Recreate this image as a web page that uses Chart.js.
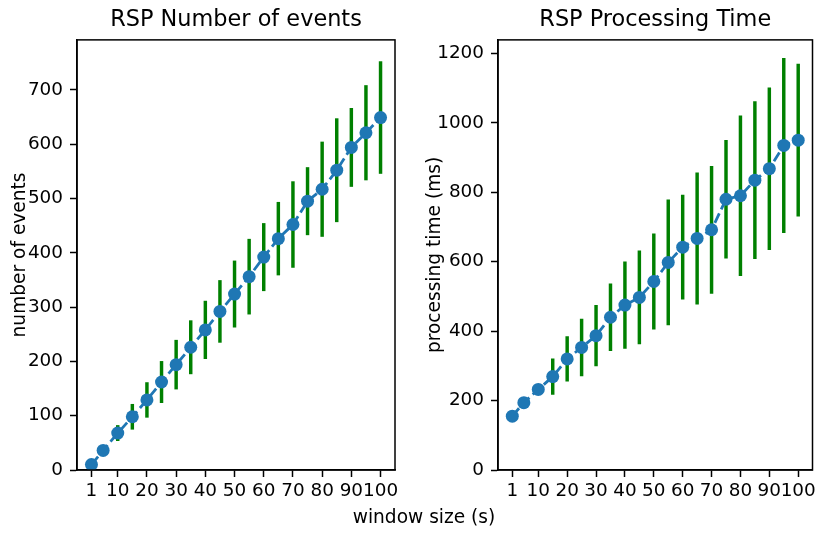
<!DOCTYPE html>
<html>
<head>
<meta charset="utf-8">
<script src="https://cdn.jsdelivr.net/npm/chart.js@4/dist/chart.umd.min.js"></script>
<style>
  html, body { margin: 0; padding: 0; background: #fff; }
  #wrap { position: relative; width: 819px; height: 533px; overflow: hidden; }
  #cEvents { position: absolute; left: 0; top: 0; }
  #cTime { position: absolute; left: 410px; top: 0; }
  #xlabel { position: absolute; left: 324px; top: 506px; width: 200px; height: 22px; line-height: 22px;
    text-align: center; font: 18.6px "DejaVu Sans", sans-serif; color: #000; }
</style>
</head>
<body>
<div id="wrap">
  <canvas id="cEvents" width="410" height="533"></canvas>
  <canvas id="cTime" width="409" height="533"></canvas>
  <div id="xlabel">window size (s)</div>
</div>
<script>
// window sizes (s)
const windowSizes = [1, 5, 10, 15, 20, 25, 30, 35, 40, 45, 50, 55, 60, 65, 70, 75, 80, 85, 90, 95, 100];
const xTickValues = [1, 10, 20, 30, 40, 50, 60, 70, 80, 90, 100];

// RSP number of events: mean and std
const eventsMean = [10, 36, 68, 98, 129, 162, 194, 226, 258, 292, 324, 356, 392, 426, 452, 495, 517, 552, 594, 621, 649];
const eventsErr  = [2, 5, 14, 23, 32, 38, 45, 49, 53, 57, 61, 69, 62, 67, 79, 62, 87, 95, 72, 87, 103];
const eventsTicks = [0, 100, 200, 300, 400, 500, 600, 700];

// RSP processing time (ms): mean and std
const timeMean = [155, 194, 232, 269, 320, 353, 387, 440, 475, 497, 543, 598, 642, 667, 692, 780, 790, 835, 868, 935, 950];
const timeErr  = [8, 12, 15, 51, 64, 82, 87, 96, 125, 134, 137, 180, 150, 189, 183, 170, 230, 226, 233, 251, 219];
const timeTicks = [0, 200, 400, 600, 800, 1000, 1200];

const FONT = '"DejaVu Sans", sans-serif';
const BLUE = '#1f77b4';

// outline the axes box like matplotlib spines
const boxPlugin = {
  id: 'box',
  afterDraw(chart) {
    const a = chart.chartArea, ctx = chart.ctx;
    ctx.save();
    ctx.strokeStyle = '#000';
    ctx.lineWidth = 1.5;
    ctx.strokeRect(a.left, a.top, a.right - a.left, a.bottom - a.top);
    ctx.restore();
  }
};

function makeChart(id, title, yTitle, mean, err, yTicks, yMax, yWidth, yTitlePad, padRight) {
  const bars = windowSizes.map((x, i) => ({ x: x, y: [mean[i] - err[i], mean[i] + err[i]] }));
  const pts = windowSizes.map((x, i) => ({ x: x, y: mean[i] }));
  return new Chart(document.getElementById(id), {
    type: 'line',
    data: {
      datasets: [
        { type: 'line', data: pts, order: 0, borderColor: BLUE, borderWidth: 2.8, borderDash: [10.4, 4.5],
          pointRadius: 6.5, pointBackgroundColor: BLUE, pointBorderWidth: 0, tension: 0 },
        { type: 'bar', data: bars, order: 1, backgroundColor: '#008000', barThickness: 2.8,
          borderWidth: 0 }
      ]
    },
    options: {
      responsive: false,
      animation: false,
      devicePixelRatio: 1,
      layout: { padding: { left: 0, right: padRight, top: 0, bottom: 0 } },
      plugins: {
        legend: { display: false },
        tooltip: { enabled: false },
        title: { display: true, text: title, color: '#000', fullSize: false,
          font: { family: FONT, size: 22.4, weight: 'normal', lineHeight: 1.2 },
          padding: { top: 7, bottom: 6 } }
      },
      scales: {
        x: {
          type: 'linear', min: -3.95, max: 104.95, offset: false,
          afterBuildTicks(s) { s.ticks = xTickValues.map(v => ({ value: v })); },
          afterFit(s) { s.height = 63; s.paddingLeft = 0; s.paddingRight = 0; },
          grid: { display: true, offset: false, drawOnChartArea: false, drawTicks: true, tickLength: 7, tickWidth: 1.5, tickColor: '#000' },
          border: { display: true, color: '#000', width: 1.5 },
          ticks: { color: '#000', padding: 3, maxRotation: 0, autoSkip: false,
            font: { family: FONT, size: 18.4, lineHeight: 1.2 }, callback: v => String(v) }
        },
        y: {
          type: 'linear', min: 0, max: yMax,
          afterBuildTicks(s) { s.ticks = yTicks.map(v => ({ value: v })); },
          afterFit(s) { s.width = yWidth; s.paddingTop = 0; s.paddingBottom = 0; },
          grid: { display: true, drawOnChartArea: false, drawTicks: true, tickLength: 7, tickWidth: 1.5, tickColor: '#000' },
          border: { display: true, color: '#000', width: 1.5 },
          ticks: { color: '#000', padding: 7, autoSkip: false,
            font: { family: FONT, size: 18.4, lineHeight: 1.2 }, callback: v => String(v) },
          title: { display: true, text: yTitle, color: '#000', padding: { top: yTitlePad, bottom: 0 },
            font: { family: FONT, size: 18.6, lineHeight: 1.2 } }
        }
      }
    },
    plugins: [boxPlugin]
  });
}

makeChart('cEvents', 'RSP Number of events', 'number of events', eventsMean, eventsErr, eventsTicks, 792, 77, 8.7, 15);
makeChart('cTime', 'RSP Processing Time', 'processing time (ms)', timeMean, timeErr, timeTicks, 1239, 88, 13.7, 3);
</script>
</body>
</html>
